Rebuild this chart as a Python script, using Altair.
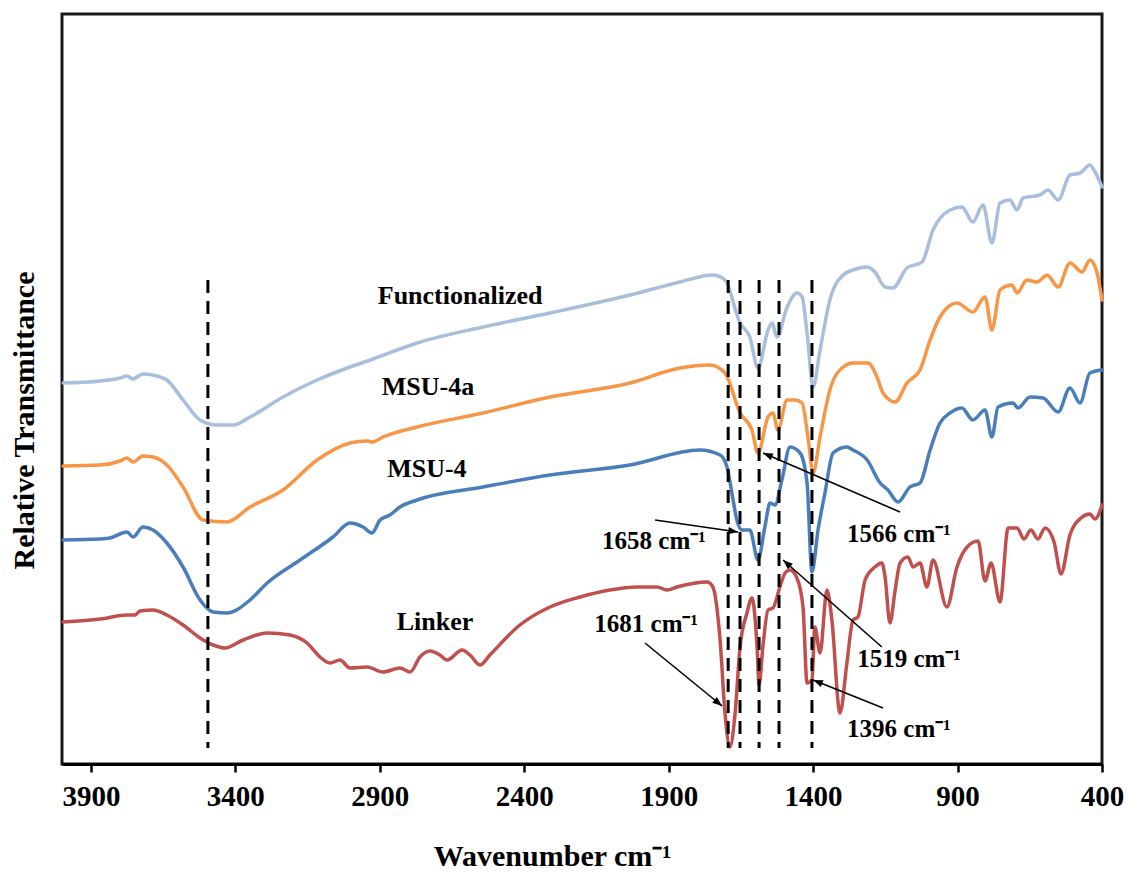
import math
import altair as alt
import pandas as pd

# ---------------- spectra (wavenumber, relative transmittance a.u.) ----------------
func_wn = [3996, 3868, 3799, 3775, 3754, 3720, 3685, 3637, 3581, 3522, 3463, 3408, 3349, 3235, 3117,
           3003, 2923, 2771, 2543, 2311, 2034, 1861, 1747, 1705, 1653, 1619, 1591, 1556, 1542, 1525,
           1490, 1456, 1438, 1421, 1400, 1376, 1342, 1296, 1262, 1213, 1186, 1151, 1124, 1075, 1023,
           985, 926, 885, 847, 812, 781, 753, 719, 694, 673, 615, 587, 552, 511, 476, 442, 424, 400]
func_t = [381, 383, 386, 388, 385, 390, 389, 384, 364, 344, 339, 339, 347, 367, 384,
          397, 405, 421, 437, 451, 469, 482, 489, 484, 441, 427, 396, 434, 441, 427,
          457, 471, 467, 431, 377, 414, 464, 489, 494, 497, 492, 477, 476, 496, 502,
          534, 554, 557, 542, 559, 521, 561, 564, 554, 566, 569, 574, 564, 589, 591, 599, 592, 577]

msu4a_wn = [3996, 3868, 3799, 3775, 3754, 3720, 3685, 3637, 3581, 3512, 3429, 3349, 3235, 3117, 3003,
            2944, 2927, 2889, 2771, 2543, 2311, 2034, 1861, 1757, 1705, 1653, 1612, 1591, 1556, 1539,
            1522, 1490, 1463, 1438, 1418, 1400, 1376, 1342, 1296, 1262, 1210, 1179, 1158, 1116, 1075,
            1030, 995, 961, 902, 847, 805, 781, 753, 712, 694, 660, 625, 590, 552, 511, 469, 442, 418, 400]
msu4a_t = [298, 299, 303, 306, 302, 308, 307, 299, 277, 244, 242, 257, 274, 304, 321,
           323, 322, 327, 337, 351, 367, 381, 396, 399, 391, 351, 334, 311, 347, 351,
           334, 364, 364, 361, 327, 291, 327, 374, 397, 401, 401, 387, 371, 362, 381,
           394, 424, 447, 461, 452, 467, 434, 474, 479, 471, 484, 482, 489, 477, 501, 492, 504, 492, 464]

msu4_wn = [3996, 3868, 3834, 3775, 3754, 3720, 3685, 3637, 3581, 3522, 3477, 3429, 3349, 3290, 3176,
           3062, 3003, 2958, 2927, 2899, 2865, 2830, 2771, 2543, 2311, 2034, 1792, 1722, 1698, 1677,
           1664, 1646, 1619, 1591, 1567, 1549, 1532, 1508, 1480, 1445, 1421, 1404, 1383, 1359, 1331,
           1283, 1262, 1213, 1168, 1141, 1106, 1065, 1030, 995, 961, 926, 885, 847, 805, 781, 760,
           708, 691, 649, 604, 552, 511, 476, 442, 400]
msu4_t = [224, 225, 226, 232, 227, 237, 234, 221, 197, 164, 152, 151, 164, 181, 204,
          227, 241, 237, 231, 244, 249, 257, 264, 277, 289, 299, 314, 309, 297, 264,
          244, 234, 234, 204, 237, 261, 259, 284, 317, 311, 281, 192, 234, 271, 311,
          317, 314, 304, 281, 274, 262, 277, 281, 314, 341, 351, 356, 344, 354, 327, 357,
          361, 356, 367, 366, 352, 376, 361, 391, 394]

linker_wn = [3996, 3868, 3775, 3747, 3730, 3685, 3637, 3581, 3522, 3477, 3436, 3373, 3290, 3211, 3152,
             3107, 3072, 3038, 3003, 2944, 2889, 2830, 2795, 2761, 2726, 2692, 2667, 2615, 2588, 2553,
             2519, 2415, 2311, 2207, 2103, 2010, 1940, 1906, 1871, 1767, 1747, 1722, 1705, 1688, 1670,
             1653, 1629, 1612, 1594, 1587, 1574, 1556, 1539, 1515, 1497, 1480, 1456, 1435, 1421, 1404,
             1394, 1376, 1352, 1335, 1307, 1283, 1262, 1245, 1220, 1186, 1162, 1151, 1134, 1116, 1099,
             1072, 1054, 1030, 1006, 985, 937, 902, 867, 829, 805, 784, 753, 725, 694, 670, 646, 622,
             597, 566, 542, 511, 473, 442, 424, 400]
linker_t = [142, 145, 149, 149, 153, 154, 149, 139, 126, 119, 116, 124, 131, 129, 121,
            107, 101, 104, 96, 97, 92, 96, 92, 107, 113, 109, 104, 114, 109, 99,
            109, 139, 157, 167, 174, 177, 177, 174, 177, 182, 177, 124, 51, 17, 51,
            117, 151, 166, 117, 79, 117, 154, 156, 177, 191, 194, 186, 157, 81, 84,
            137, 111, 174, 144, 51, 101, 144, 147, 184, 197, 201, 187, 141, 174, 201,
            207, 197, 201, 177, 204, 157, 197, 217, 223, 183, 201, 162, 236, 236, 225, 234, 225,
            236, 222, 190, 229, 246, 250, 245, 259]

series_names = ["Functionalized", "MSU-4a", "MSU-4", "Linker"]
series_colors = ["#A7BEDD", "#F79646", "#4A7EBB", "#C0504D"]

# series labels
label_text = ["Functionalized", "MSU-4a", "MSU-4", "Linker"]
label_wn = [2622, 2733, 2737, 2709]
label_t = [468, 377, 295, 142]

# dashed marker lines
dash_wn = [3495, 1694, 1653, 1587, 1518, 1404]
dash_top = 484
dash_bottom = 16

# peak annotations
ann_text = ["1566 cm⁻¹", "1658 cm⁻¹", "1519 cm⁻¹", "1681 cm⁻¹", "1396 cm⁻¹"]
ann_wn = [1103, 1951, 1068, 1978, 1103]
ann_t = [230, 223, 105, 140, 35]
arrow_tail_wn = [1099, 1947, 1162, 1982, 1158]
arrow_tail_t = [252, 244, 117, 121, 56]
arrow_head_wn = [1573, 1660, 1504, 1715, 1400]
arrow_head_t = [311, 232, 204, 58, 84]

x_ticks = [3900, 3400, 2900, 2400, 1900, 1400, 900, 400]

W, H = 1040, 750
X_DOMAIN = [400, 4000]
Y_DOMAIN = [0, 750]
FONT = "Liberation Serif"

# ---------------- build tables ----------------
rows = []
for name, wn, t in zip(series_names,
                       [func_wn, msu4a_wn, msu4_wn, linker_wn],
                       [func_t, msu4a_t, msu4_t, linker_t]):
    for i, (a, b) in enumerate(zip(wn, t)):
        rows.append({"series": name, "wn": a, "t": b, "idx": i})
spec_df = pd.DataFrame(rows)

labels_df = pd.DataFrame({"text": label_text, "wn": label_wn, "t": label_t})
dash_df = pd.DataFrame({"wn": dash_wn, "top": [dash_top] * len(dash_wn),
                        "bottom": [dash_bottom] * len(dash_wn)})

px_per_wn = W / (X_DOMAIN[1] - X_DOMAIN[0])
px_per_t = H / (Y_DOMAIN[1] - Y_DOMAIN[0])
angles = []
for tw, tt, hw, ht in zip(arrow_tail_wn, arrow_tail_t, arrow_head_wn, arrow_head_t):
    dx = -(hw - tw) * px_per_wn
    dy = -(ht - tt) * px_per_t
    angles.append(math.degrees(math.atan2(dx, -dy)) % 360)
arrow_df = pd.DataFrame({"tw": arrow_tail_wn, "tt": arrow_tail_t,
                         "hw": arrow_head_wn, "ht": arrow_head_t, "angle": angles})
ann_df = pd.DataFrame({"text": ann_text, "wn": ann_wn, "t": ann_t})

xscale = alt.Scale(domain=X_DOMAIN, reverse=True, nice=False, zero=False)
yscale = alt.Scale(domain=Y_DOMAIN, nice=False, zero=False)

x_axis = alt.Axis(values=x_ticks, format="d", grid=False, domain=True, domainColor="black",
                  domainWidth=3, ticks=True, tickColor="black", tickWidth=2.5, tickSize=8,
                  labelFont=FONT, labelFontSize=29, labelFontWeight="bold", labelColor="black",
                  labelPadding=10, labelFlush=False,
                  title="Wavenumber cm⁻¹", titleFont=FONT, titleFontSize=30,
                  titleFontWeight="bold", titleColor="black", titleX=490, titleY=101,
                  titleAlign="center", titleBaseline="alphabetic")
y_axis = alt.Axis(labels=False, ticks=False, domain=False, grid=False,
                  title="Relative Transmittance", titleFont=FONT, titleFontSize=30,
                  titleFontWeight="bold", titleColor="black", titleX=-29, titleY=406,
                  titleAlign="center", titleBaseline="alphabetic", titleAngle=270)

lines = alt.Chart(spec_df).mark_line(strokeWidth=3.5, strokeJoin="round", strokeCap="round",
                                     interpolate="monotone").encode(
    x=alt.X("wn:Q", scale=xscale, axis=x_axis),
    y=alt.Y("t:Q", scale=yscale, axis=y_axis),
    color=alt.Color("series:N", scale=alt.Scale(domain=series_names, range=series_colors), legend=None),
    order=alt.Order("idx:Q"),
)

dashes = alt.Chart(dash_df).mark_rule(color="black", strokeWidth=3, strokeDash=[13, 8]).encode(
    x=alt.X("wn:Q", scale=xscale),
    y=alt.Y("top:Q", scale=yscale),
    y2="bottom:Q",
)

series_labels = alt.Chart(labels_df).mark_text(font=FONT, fontSize=26, fontWeight="bold",
                                               color="black", align="center", baseline="middle").encode(
    x=alt.X("wn:Q", scale=xscale),
    y=alt.Y("t:Q", scale=yscale),
    text="text:N",
)

arrow_lines = alt.Chart(arrow_df).mark_rule(color="black", strokeWidth=1.6).encode(
    x=alt.X("tw:Q", scale=xscale),
    y=alt.Y("tt:Q", scale=yscale),
    x2="hw:Q",
    y2="ht:Q",
)

arrow_heads = alt.Chart(arrow_df).mark_point(shape="M0,0 L-0.38,1 L0.38,1 Z", filled=True,
                                             size=380, color="black", opacity=1).encode(
    x=alt.X("hw:Q", scale=xscale),
    y=alt.Y("ht:Q", scale=yscale),
    angle=alt.Angle("angle:Q", scale=None),
)

ann_labels = alt.Chart(ann_df).mark_text(font=FONT, fontSize=25, fontWeight="bold",
                                         color="black", align="center", baseline="middle").encode(
    x=alt.X("wn:Q", scale=xscale),
    y=alt.Y("t:Q", scale=yscale),
    text="text:N",
)

chart = alt.layer(lines, dashes, series_labels, arrow_lines, arrow_heads, ann_labels).properties(
    width=W, height=H,
    autosize=alt.AutoSizeParams(type="none"),
    padding={"left": 62, "top": 14, "right": 27, "bottom": 110},
    background="white",
).configure_view(stroke="#1a1a1a", strokeWidth=3)

chart.save("out.html", embed_options={"renderer": "svg", "actions": False})
